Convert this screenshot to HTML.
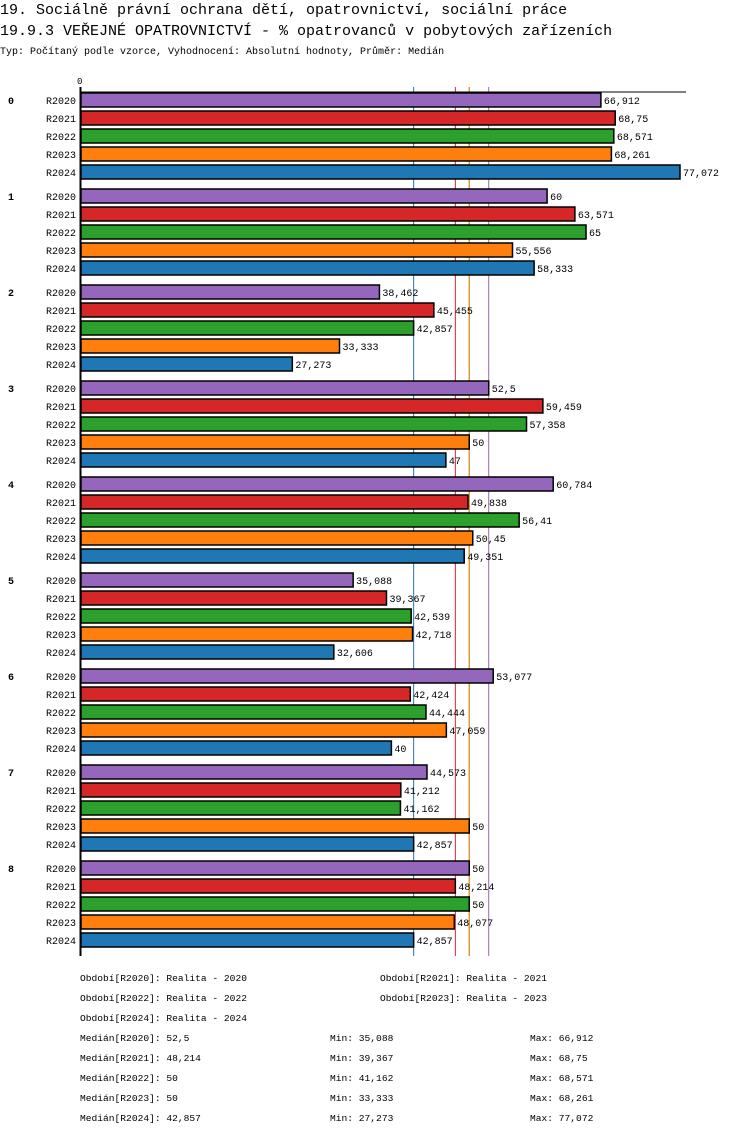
<!DOCTYPE html>
<html><head><meta charset="utf-8">
<style>
body{margin:0;background:#fff;width:750px;height:1136px;overflow:hidden}
svg{display:block}
text{font-family:"Liberation Mono","DejaVu Sans Mono",monospace;fill:#000}
</style></head><body>
<svg id="chart" width="750" height="1136">
<text x="0" y="14" font-size="15">19. Sociálně právní ochrana dětí, opatrovnictví, sociální práce</text>
<text x="0" y="35" font-size="15">19.9.3 VEŘEJNÉ OPATROVNICTVÍ - % opatrovanců v pobytových zařízeních</text>
<text x="0" y="54" font-size="10">Typ: Počítaný podle vzorce, Vyhodnocení: Absolutní hodnoty, Průměr: Medián</text>
<text x="77" y="84" font-size="9">0</text>
<g id="medians"></g>
<g id="bars"></g>
<line x1="80" y1="92" x2="686" y2="92" stroke="#000" stroke-width="1"/>
<line x1="80.5" y1="87" x2="80.5" y2="956" stroke="#000" stroke-width="2"/>
<g id="legend"></g>
</svg>
<script>
const categories = ["0","1","2","3","4","5","6","7","8"];
const series = ["R2020","R2021","R2022","R2023","R2024"];
const colors = ["#9467bd","#d62728","#2ca02c","#ff7f0e","#1f77b4"];
const v2020 = [66.912,60,38.462,52.5,60.784,35.088,53.077,44.573,50];
const v2021 = [68.75,63.571,45.455,59.459,49.838,39.367,42.424,41.212,48.214];
const v2022 = [68.571,65,42.857,57.358,56.41,42.539,44.444,41.162,50];
const v2023 = [68.261,55.556,33.333,50,50.45,42.718,47.059,50,48.077];
const v2024 = [77.072,58.333,27.273,47,49.351,32.606,40,42.857,42.857];
const medians = [52.5,48.214,50,50,42.857];
const mins = [35.088,39.367,41.162,33.333,27.273];
const maxs = [66.912,68.75,68.571,68.261,77.072];
const periods = ["Realita - 2020","Realita - 2021","Realita - 2022","Realita - 2023","Realita - 2024"];
const values = [v2020,v2021,v2022,v2023,v2024];

const NS="http://www.w3.org/2000/svg";
const x0=80, maxV=77.072, maxX=680;
const xs=v=>x0+v*(maxX-x0)/maxV;
const fmt=v=>String(v).replace('.',',');
function mk(tag,attrs,parent){const e=document.createElementNS(NS,tag);for(const k in attrs)e.setAttribute(k,attrs[k]);parent.appendChild(e);return e;}

const gm=document.getElementById('medians');
const medOrder=[4,1,2,3,0];
medOrder.forEach(s=>{
  const l=mk('line',{x1:xs(medians[s]),x2:xs(medians[s]),y1:87,y2:956,stroke:colors[s],'stroke-width':1},gm);
  
  
});

const gb=document.getElementById('bars');
categories.forEach((c,ci)=>{
  const gy=100+ci*96;
  const ct=mk('text',{x:8,y:gy+4,'font-size':10,'font-weight':'bold'},gb);
  ct.textContent=c;
  
  
  series.forEach((s,si)=>{
    const cy=gy+si*18;
    const v=values[si][ci];
    const lt=mk('text',{x:76,y:cy+4,'font-size':10,'text-anchor':'end'},gb);
    lt.textContent=s;
    
    
    const r=mk('rect',{x:81,y:cy-7,width:xs(v)-81,height:14,fill:colors[si],stroke:'#000','stroke-width':1.5},gb);
    
    
    const vt=mk('text',{x:xs(v)+3,y:cy+4,'font-size':10},gb);
    vt.textContent=fmt(v);
    
    
  });
});

const gl=document.getElementById('legend');
const perPos=[[80,977],[380,977],[80,997],[380,997],[80,1017]];
series.forEach((s,i)=>{
  const t=mk('text',{x:perPos[i][0],y:perPos[i][1]+4,'font-size':9.6},gl);
  t.textContent='Období['+s+']: '+periods[i];
  
  
  const y=1037+i*20+4;
  const a=mk('text',{x:80,y:y,'font-size':9.6},gl);
  a.textContent='Medián['+s+']: '+fmt(medians[i]);
  
  
  const b=mk('text',{x:330,y:y,'font-size':9.6},gl);
  b.textContent='Min: '+fmt(mins[i]);
  
  
  const d=mk('text',{x:530,y:y,'font-size':9.6},gl);
  d.textContent='Max: '+fmt(maxs[i]);
  
  
});
</script>
</body></html>
